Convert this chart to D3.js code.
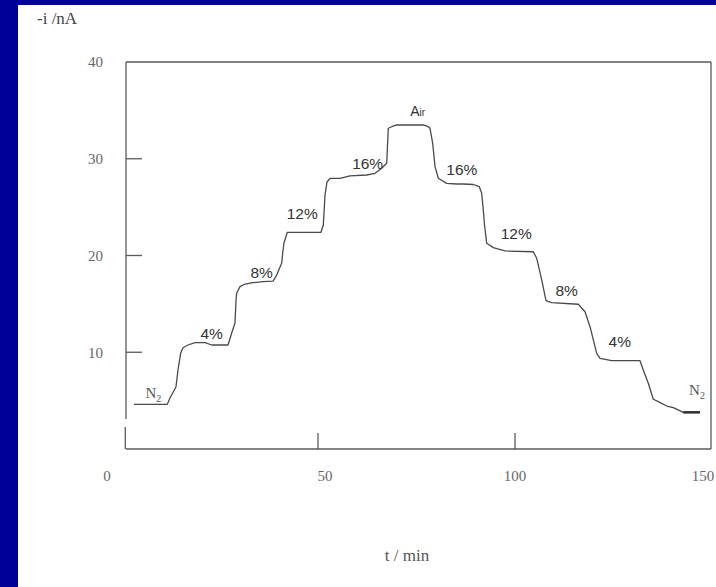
<!DOCTYPE html>
<html>
<head>
<meta charset="utf-8">
<script src="https://cdn.jsdelivr.net/npm/d3@7"></script>
<style>
  html, body { margin: 0; padding: 0; background: #000099; }
  svg { display: block; }
</style>
</head>
<body>
<script>
// Sensor current (-i, nA) versus time while stepping the oxygen content of the gas
const timeMin = [3.3, 11.75, 12.44, 13.96, 14.47, 15.15, 15.74, 17.0, 18.78, 21.32, 23.02, 27.16,
  28.1, 28.93, 29.19, 29.37, 30.2, 31.47, 33.5, 36.04, 38.58, 39.52, 40.79, 41.04, 41.37, 42.21,
  50.76, 51.35, 51.78, 52.28, 53.05, 55.58, 58.12, 62.36, 64.47, 66.17, 67.44, 67.84, 68.71, 69.97,
  76.73, 77.99, 78.43, 79.11, 79.7, 80.53, 82.66, 85.2, 86.88, 89.42, 90.94, 91.55, 91.95, 92.26,
  92.82, 94.49, 97.46, 104.64, 105.51, 106.78, 107.87, 109.31, 116.07, 117.77, 119.04, 120.74,
  121.57, 124.54, 131.73, 132.56, 133.83, 135.1, 136.37, 138.5, 140.18, 142.72, 146.95];
const currentNA = [4.62, 4.62, 5.27, 6.44, 8.17, 9.92, 10.47, 10.75, 10.99, 10.99, 10.75, 10.75,
  11.99, 13.02, 15.4, 16.12, 16.78, 17.05, 17.19, 17.29, 17.36, 17.98, 19.22, 20.26, 21.29, 22.4,
  22.4, 23.15, 26.25, 27.6, 27.98, 27.98, 28.22, 28.32, 28.5, 29.01, 29.53, 33.15, 33.31, 33.49,
  33.49, 33.31, 33.15, 31.6, 29.18, 27.98, 27.46, 27.39, 27.39, 27.34, 27.11, 26.43, 24.7, 23.15,
  21.26, 20.81, 20.47, 20.39, 19.71, 17.47, 15.33, 15.12, 14.96, 14.19, 12.64, 9.89,
  9.37, 9.13, 9.13, 8.17, 6.79, 5.14, 4.89, 4.44, 4.27, 3.79, 3.79];

// Gas step annotations
const stepNames   = ["N2", "4%", "8%", "12%", "16%", "Air", "16%", "12%", "8%", "4%", "N2"];
const stepTime    = [8.2, 23.0, 35.7, 46.0, 62.6, 75.3, 86.5, 100.3, 113.1, 126.6, 146.2];
const stepCurrent = [5.8, 11.9, 18.2, 24.3, 29.5, 34.9, 28.9, 22.3, 16.4, 11.1, 6.1];

// Axis ticks
const yTickValues = [10, 20, 30, 40];
const yTickMarks  = [10, 20, 30];
const xTickValues = [0, 50, 100, 150];
const xTickMarks  = [50, 100];

const W = 716, H = 587;
const ink = "#4a4a4a";

const svg = d3.select("body").append("svg")
  .attr("width", W).attr("height", H);

// dark blue slide background with the white page
svg.append("rect").attr("width", W).attr("height", H).attr("fill", "#000099");
svg.append("rect").attr("x", 18).attr("y", 5).attr("width", W - 18).attr("height", H - 5)
  .attr("fill", "#ffffff");

const x = d3.scaleLinear().domain([0, 150]).range([121, 712]);
const y = d3.scaleLinear().domain([0, 40]).range([449, 62]);

const box = { left: 126, right: 711, top: y(40), bottom: y(0) };

// frame
const frame = svg.append("g").attr("stroke", "#5a5a5a").attr("stroke-width", 1.3).attr("fill", "none");
frame.append("line").attr("x1", box.left).attr("x2", box.right).attr("y1", box.top).attr("y2", box.top);
frame.append("line").attr("x1", box.left).attr("x2", box.right).attr("y1", box.bottom).attr("y2", box.bottom);
frame.append("line").attr("x1", box.right).attr("x2", box.right).attr("y1", box.top).attr("y2", box.bottom);
frame.append("line").attr("x1", box.left).attr("x2", box.left).attr("y1", box.top).attr("y2", box.bottom - 30);
frame.append("line").attr("x1", box.left - 0.7).attr("x2", box.left - 0.7).attr("y1", box.bottom - 22).attr("y2", box.bottom);

// inward tick marks
frame.selectAll(".ytick").data(yTickMarks).join("line")
  .attr("x1", box.left).attr("x2", box.left + 16)
  .attr("y1", d => y(d)).attr("y2", d => y(d));
frame.selectAll(".xtick").data(xTickMarks).join("line")
  .attr("x1", d => x(d)).attr("x2", d => x(d))
  .attr("y1", box.bottom).attr("y2", box.bottom - 16);

// tick labels
const serif = "'Liberation Serif', 'Times New Roman', serif";
const sans = "'Liberation Sans', Arial, sans-serif";

svg.selectAll(".ylab").data(yTickValues).join("text")
  .attr("x", 103).attr("y", d => y(d)).attr("dy", "0.35em")
  .attr("text-anchor", "end")
  .attr("font-family", serif).attr("font-size", 15).attr("fill", "#666")
  .text(d => d);

const xLabelNudge = { 0: -14, 50: 7, 100: 0, 150: -9 };
svg.selectAll(".xlab").data(xTickValues).join("text")
  .attr("x", d => x(d) + xLabelNudge[d]).attr("y", 481)
  .attr("text-anchor", "middle")
  .attr("font-family", serif).attr("font-size", 15).attr("fill", "#666")
  .text(d => d);

// axis titles
svg.append("text").attr("x", 37).attr("y", 24)
  .attr("font-family", serif).attr("font-size", 17).attr("fill", "#444")
  .text("-i /nA");
svg.append("text").attr("x", 407).attr("y", 561).attr("text-anchor", "middle")
  .attr("font-family", serif).attr("font-size", 17).attr("fill", "#555")
  .text("t / min");

// current trace
const pts = timeMin.map((t, i) => [t, currentNA[i]]);
const line = d3.line().x(d => x(d[0])).y(d => y(d[1]));
svg.append("path").datum(pts)
  .attr("d", line)
  .attr("fill", "none").attr("stroke", ink).attr("stroke-width", 1.3)
  .attr("stroke-linejoin", "round");
svg.append("path").datum(pts.slice(-2))
  .attr("d", line)
  .attr("fill", "none").attr("stroke", "#333").attr("stroke-width", 2.6);

// step annotations
stepNames.forEach((name, i) => {
  const t = svg.append("text")
    .attr("x", x(stepTime[i])).attr("y", y(stepCurrent[i])).attr("dy", "0.35em")
    .attr("text-anchor", "middle");
  if (name === "N2") {
    t.attr("font-family", serif).attr("font-size", 15).attr("fill", "#555");
    t.append("tspan").text("N");
    t.append("tspan").attr("font-size", 10).attr("dy", 4).text("2");
  } else if (name === "Air") {
    t.attr("font-family", sans).attr("font-size", 14).attr("fill", "#333");
    t.append("tspan").text("A");
    t.append("tspan").attr("font-size", 10).text("ir");
  } else {
    t.attr("font-family", sans).attr("font-size", 15.5).attr("fill", "#333").text(name);
  }
});
</script>
</body>
</html>
